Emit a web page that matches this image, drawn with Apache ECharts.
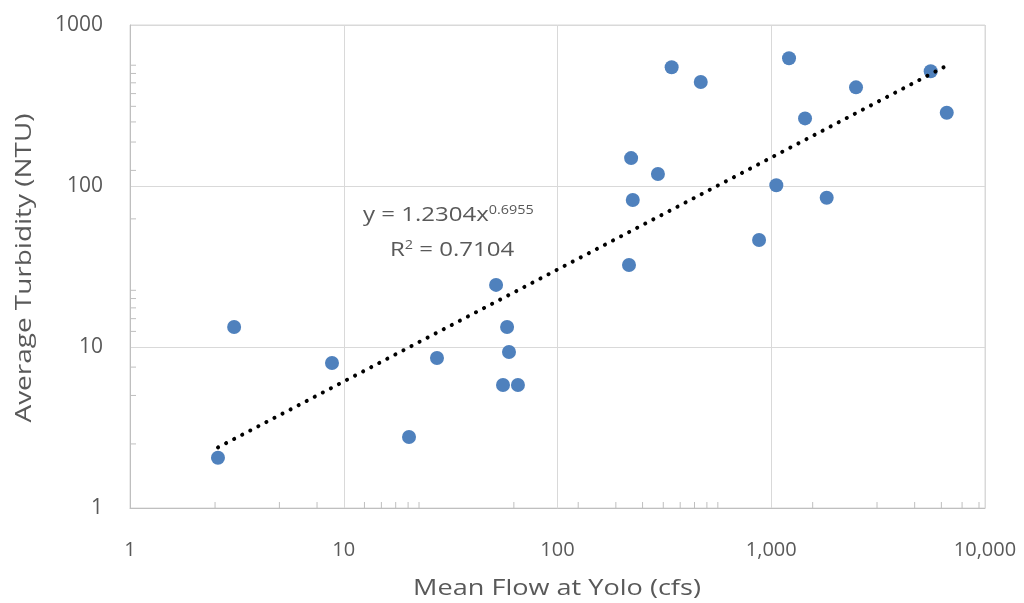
<!DOCTYPE html>
<html><head><meta charset="utf-8">
<script src="https://cdn.jsdelivr.net/npm/echarts@6/dist/echarts.min.js"></script>
<style>html,body{margin:0;padding:0;background:#fff}#c{width:1024px;height:603px}</style>
</head><body><div id="c"></div>
<script>
// Mean flow at Yolo (cfs) and average turbidity (NTU)
const flow = [2.58, 3.07, 8.81, 20.2, 27.3, 51.6, 58.1, 59.3, 55.6, 65.3, 221, 225, 216, 295, 342, 468, 1211, 2492, 1439, 5571, 6624, 1056, 1817, 877];
const turbidity = [2.05, 13.3, 7.96, 2.76, 8.55, 24.3, 13.3, 9.31, 5.81, 5.81, 149, 81.9, 32.3, 118.7, 546, 443, 621, 410, 263, 516, 285, 101, 84.6, 46.2];
// Power trendline y = a * x^b
const trendA = 1.2304;
const trendB = 0.6955;
const rSquared = '0.7104';
// Titles and tick labels
const xTitle = 'Mean Flow at Yolo (cfs)';
const yTitle = 'Average Turbidity (NTU)';
const xTickLabels = ['1', '10', '100', '1,000', '10,000'];
const yTickLabels = ['1', '10', '100', '1000'];
// Minor tick values (as drawn in the reference)
const xMinorTicks = [2.5, 5, 7.5, 12.5, 15, 17.5, 20, 22.5, 62.5, 125, 187.5, 250, 312.5, 375, 437.5, 500, 562.5, 1562.5, 3125, 4687.5, 6250, 7812.5, 9375];
const yMinorTicks = [2.5, 5, 7.5, 12.5, 15, 17.5, 20, 22.5, 62.5, 125, 187.5, 250, 312.5, 375, 437.5, 500, 562.5];

const FONT = '"Open Sans", sans-serif';
const TXT = '#595959';
const chart = echarts.init(document.getElementById('c'), null, {renderer: 'canvas'});

const points = flow.map((x, i) => [x, turbidity[i]]);
const xMin = Math.min(...flow), xMax = Math.max(...flow);
const trend = [[xMin, trendA * Math.pow(xMin, trendB)], [xMax, trendA * Math.pow(xMax, trendB)]];

function tickSeries(vals, horizontal) {
  return {
    type: 'custom', coordinateSystem: 'cartesian2d', silent: true, z: 3,
    data: vals.map(v => horizontal ? [v, 1] : [1, v]),
    renderItem: (params, api) => {
      const p = api.coord([api.value(0), api.value(1)]);
      return {
        type: 'line',
        shape: horizontal ? {x1: p[0], y1: p[1], x2: p[0], y2: p[1] - 6} : {x1: p[0], y1: p[1], x2: p[0] + 6, y2: p[1]},
        style: {stroke: '#bfbfbf', lineWidth: 1}
      };
    }
  };
}

const richEq = {
  m: {fontSize: 20, fontFamily: FONT, color: TXT, verticalAlign: 'bottom'},
  s: {fontSize: 12, fontFamily: FONT, color: TXT, verticalAlign: 'top'}
};

chart.setOption({
  animation: false,
  backgroundColor: '#fff',
  grid: {left: 130, right: 39, top: 25, bottom: 95, show: true, borderColor: '#d9d9d9', borderWidth: 1},
  xAxis: {
    type: 'log', logBase: 10, min: 1, max: 10000,
    axisLine: {show: true, lineStyle: {color: '#bfbfbf'}},
    axisTick: {show: false},
    splitLine: {show: true, lineStyle: {color: '#d9d9d9'}},
    axisLabel: {margin: 32, fontFamily: FONT, fontSize: 20, color: TXT,
      formatter: v => xTickLabels[Math.round(Math.log10(v))]}
  },
  yAxis: {
    type: 'log', logBase: 10, min: 1, max: 1000,
    axisLine: {show: true, lineStyle: {color: '#bfbfbf'}},
    axisTick: {show: false},
    splitLine: {show: true, lineStyle: {color: '#d9d9d9'}},
    axisLabel: {margin: 27, fontFamily: FONT, fontSize: 21, color: TXT,
      formatter: v => yTickLabels[Math.round(Math.log10(v))]}
  },
  series: [
    tickSeries(xMinorTicks, true),
    tickSeries(yMinorTicks, false),
    {
      type: 'scatter', data: points, symbol: 'circle', symbolSize: 14, z: 4,
      itemStyle: {color: '#4F81BD', opacity: 1}
    },
    {
      type: 'line', data: trend, showSymbol: false, symbol: 'none', z: 5,
      lineStyle: {color: '#000', width: 4, type: [0.1, 9], cap: 'round'}
    }
  ],
  graphic: [
    {type: 'text', x: 557, y: 589, scaleX: 1.29, silent: true,
      style: {text: xTitle, fontFamily: FONT, fontSize: 21, fill: TXT, align: 'center', verticalAlign: 'middle'}},
    {type: 'text', x: 25, y: 268, rotation: Math.PI / 2, scaleX: 1.33, silent: true,
      style: {text: yTitle, fontFamily: FONT, fontSize: 21, fill: TXT, align: 'center', verticalAlign: 'middle'}},
    {type: 'text', x: 363, y: 215, scaleX: 1.2, silent: true,
      style: {text: '{m|y = ' + trendA + 'x}{s|' + trendB + '}', fontFamily: FONT, fill: TXT,
        verticalAlign: 'middle', rich: richEq}},
    {type: 'text', x: 390, y: 250, scaleX: 1.2, silent: true,
      style: {text: '{m|R}{s|2}{m| = ' + rSquared + '}', fontFamily: FONT, fill: TXT,
        verticalAlign: 'middle', rich: richEq}}
  ]
});
</script></body></html>
